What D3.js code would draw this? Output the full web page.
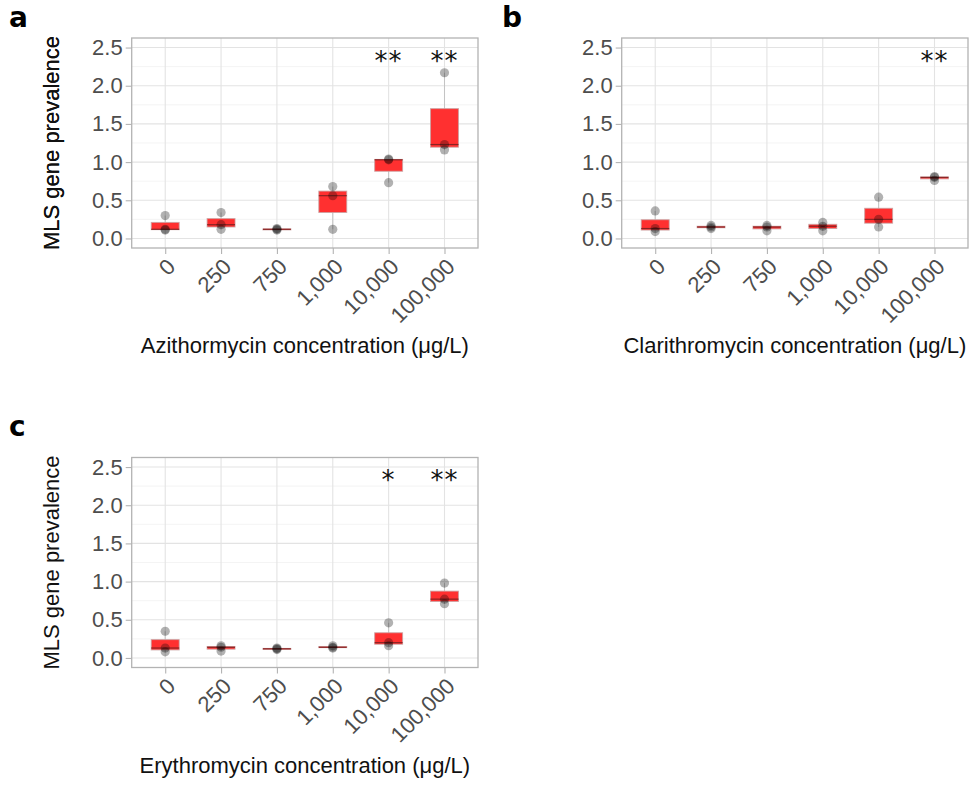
<!DOCTYPE html>
<html>
<head>
<meta charset="utf-8">
<script src="https://cdn.jsdelivr.net/npm/d3@7"></script>
<style>
  body { margin: 0; background: #fff; }
  svg text { font-family: "Liberation Sans", Arial, sans-serif; }
</style>
</head>
<body>
<div id="figure"></div>
<script>
// Concentrations on the x axis (ug/L)
var concentrations = [0, 250, 750, 1000, 10000, 100000];

// Replicate MLS gene prevalence values, three per concentration
var azithromycin = [
  [0.11, 0.12, 0.30],
  [0.12, 0.18, 0.34],
  [0.11, 0.12, 0.13],
  [0.12, 0.56, 0.68],
  [0.73, 1.03, 1.04],
  [1.16, 1.23, 2.17]
];
var clarithromycin = [
  [0.09, 0.13, 0.36],
  [0.13, 0.15, 0.17],
  [0.10, 0.15, 0.17],
  [0.10, 0.16, 0.21],
  [0.15, 0.25, 0.54],
  [0.76, 0.80, 0.81]
];
var erythromycin = [
  [0.08, 0.13, 0.35],
  [0.09, 0.14, 0.16],
  [0.11, 0.12, 0.13],
  [0.13, 0.14, 0.16],
  [0.16, 0.20, 0.46],
  [0.71, 0.77, 0.98]
];

// Significance marks above each concentration
var azithromycin_sig   = ["", "", "", "", "**", "**"];
var clarithromycin_sig = ["", "", "", "", "", "**"];
var erythromycin_sig   = ["", "", "", "", "*", "**"];

// Axis ticks
var y_ticks = [0, 0.5, 1, 1.5, 2, 2.5];
var y_minor = [0.25, 0.75, 1.25, 1.75, 2.25];
var y_limits = [0, 2.5];
var sig_y = 2.41;

var panels = [
  {label: "a", title: "Azithormycin concentration (\u03bcg/L)", values: azithromycin, sig: azithromycin_sig, left: 131.7, top: 38, lx: 9, ly: 27},
  {label: "b", title: "Clarithromycin concentration (\u03bcg/L)", values: clarithromycin, sig: clarithromycin_sig, left: 621.7, top: 38, lx: 502, ly: 27},
  {label: "c", title: "Erythromycin concentration (\u03bcg/L)", values: erythromycin, sig: erythromycin_sig, left: 131.7, top: 457.5, lx: 9, ly: 436}
];

var plot_w = 346.3,
    plot_h = 210;

var svg = d3.select("#figure")
  .append("svg")
    .attr("width", 975)
    .attr("height", 786);

// ggplot style 5% expansion of y limits
var pad = (y_limits[1] - y_limits[0]) * 0.05;

function draw_panel(p){
  var g = svg.append("g")
    .attr("transform", "translate(" + p.left + "," + p.top + ")");

  var x = d3.scalePoint()
    .domain(concentrations)
    .range([0, plot_w])
    .padding(0.6);

  var y = d3.scaleLinear()
    .domain([y_limits[0] - pad, y_limits[1] + pad])
    .range([plot_h, 0]);

  var bw = x.step() * 0.5;

  // Grid
  g.selectAll(".minor").data(y_minor).enter().append("line")
    .attr("x1", 0).attr("x2", plot_w)
    .attr("y1", d => y(d)).attr("y2", d => y(d))
    .style("stroke", "#ececec").style("stroke-width", 0.6);
  g.selectAll(".major").data(y_ticks).enter().append("line")
    .attr("x1", 0).attr("x2", plot_w)
    .attr("y1", d => y(d)).attr("y2", d => y(d))
    .style("stroke", "#e3e3e3").style("stroke-width", 1.1);
  g.selectAll(".vgrid").data(concentrations).enter().append("line")
    .attr("x1", d => x(d)).attr("x2", d => x(d))
    .attr("y1", 0).attr("y2", plot_h)
    .style("stroke", "#e3e3e3").style("stroke-width", 1.1);

  // Box summary for each concentration
  var stats = p.values.map(function(v, i){
    var s = v.slice().sort(d3.ascending);
    var q1 = d3.quantile(s, 0.25), med = d3.quantile(s, 0.5), q3 = d3.quantile(s, 0.75);
    var iqr = q3 - q1;
    var lo = d3.min(s.filter(d => d >= q1 - 1.5 * iqr));
    var hi = d3.max(s.filter(d => d <= q3 + 1.5 * iqr));
    return {c: concentrations[i], q1: q1, med: med, q3: q3, lo: lo, hi: hi};
  });

  var box = g.selectAll(".box").data(stats).enter().append("g");
  box.append("line")
    .attr("x1", d => x(d.c)).attr("x2", d => x(d.c))
    .attr("y1", d => y(d.hi)).attr("y2", d => y(d.q3))
    .style("stroke", "#c4c4c4").style("stroke-width", 1);
  box.append("line")
    .attr("x1", d => x(d.c)).attr("x2", d => x(d.c))
    .attr("y1", d => y(d.q1)).attr("y2", d => y(d.lo))
    .style("stroke", "#c4c4c4").style("stroke-width", 1);
  box.append("rect")
    .attr("x", d => x(d.c) - bw / 2)
    .attr("width", bw)
    .attr("y", d => y(d.q3))
    .attr("height", d => Math.max(y(d.q1) - y(d.q3), 1))
    .style("fill", "#ff3030")
    .style("stroke", "rgba(200,160,160,0.8)")
    .style("stroke-width", 1);
  box.append("line")
    .attr("x1", d => x(d.c) - bw / 2).attr("x2", d => x(d.c) + bw / 2)
    .attr("y1", d => y(d.med)).attr("y2", d => y(d.med))
    .style("stroke", "#8a2323").style("stroke-width", 1.2);

  // Replicate points
  var pts = [];
  p.values.forEach(function(v, i){ v.forEach(function(d){ pts.push({c: concentrations[i], v: d}); }); });
  g.selectAll(".pt").data(pts).enter().append("circle")
    .attr("cx", d => x(d.c)).attr("cy", d => y(d.v))
    .attr("r", 4.6)
    .style("fill", "#000").style("fill-opacity", 0.3);

  // Significance marks
  g.selectAll(".sig").data(p.sig).enter().append("text")
    .attr("x", (d, i) => x(concentrations[i]))
    .attr("y", y(sig_y))
    .attr("dy", "0.59em")
    .attr("text-anchor", "middle")
    .style("font-family", "'DejaVu Sans'")
    .style("font-size", "26px")
    .style("letter-spacing", "1px")
    .style("fill", "#111")
    .text(d => d);

  // Panel border
  g.append("rect")
    .attr("width", plot_w).attr("height", plot_h)
    .style("fill", "none").style("stroke", "#b3b3b3").style("stroke-width", 1.3);

  // Axes
  var ya = g.append("g")
    .call(d3.axisLeft(y).tickValues(y_ticks).tickFormat(d3.format(".1f")).tickSize(6).tickPadding(3));
  var xa = g.append("g")
    .attr("transform", "translate(0," + plot_h + ")")
    .call(d3.axisBottom(x).tickFormat(d3.format(",")).tickSize(6).tickPadding(3));
  [ya, xa].forEach(function(a){
    a.select(".domain").remove();
    a.selectAll(".tick line").style("stroke", "#b3b3b3").style("stroke-width", 1.1);
    a.selectAll(".tick text")
      .style("font-size", "22px")
      .style("font-family", "'Liberation Sans', Arial, sans-serif")
      .style("fill", "#4d4d4d");
  });
  xa.selectAll(".tick text")
    .attr("y", 0).attr("dy", "0.71em")
    .attr("text-anchor", "end")
    .attr("transform", "translate(0,9) rotate(-45)");

  // Axis titles
  g.append("text")
    .attr("x", plot_w / 2).attr("y", 315)
    .attr("text-anchor", "middle")
    .style("font-size", "22px").style("fill", "#111")
    .text(p.title);
  g.append("text")
    .attr("transform", "translate(" + (59 - p.left) + "," + plot_h / 2 + ") rotate(-90)")
    .attr("text-anchor", "middle")
    .style("font-size", "22px").style("fill", "#111")
    .text("MLS gene prevalence");

  // Panel letter
  svg.append("text")
    .attr("x", p.lx)
    .attr("y", p.ly)
    .style("font-family", "'DejaVu Sans'")
    .style("font-weight", "bold")
    .style("font-size", "28px")
    .style("fill", "#000")
    .text(p.label);
}

panels.forEach(draw_panel);
</script>
</body>
</html>
